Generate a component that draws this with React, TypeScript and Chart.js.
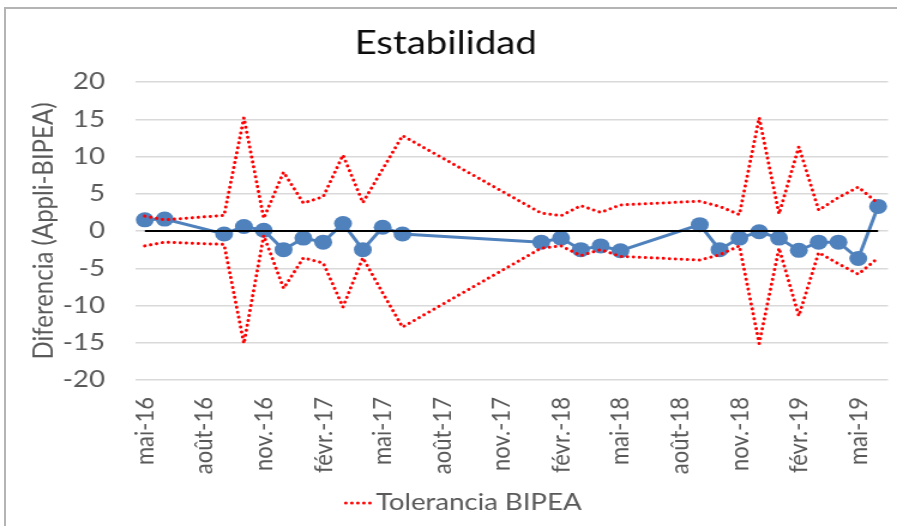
import React, { useEffect, useRef } from "react";
import { Chart, registerables } from "chart.js";

Chart.register(...registerables);

// Month index counted from mai-16 (0) ... juin-19 (37)
const months = [0, 1, 4, 5, 6, 7, 8, 9, 10, 11, 12, 13, 20, 21, 22, 23, 24, 28, 29, 30, 31, 32, 33, 34, 35, 36, 37];
const diferencia = [1.5, 1.6, -0.4, 0.6, 0.1, -2.5, -0.95, -1.5, 1.0, -2.5, 0.5, -0.4, -1.5, -0.95, -2.5, -2.0, -2.65, 0.85, -2.5, -0.95, -0.1, -0.95, -2.6, -1.5, -1.5, -3.7, 3.3];
const tolUpper = [2.0, 1.5, 2.1, 15.2, 1.7, 7.9, 3.75, 4.6, 10.2, 3.8, 8.3, 12.8, 2.4, 2.05, 3.4, 2.5, 3.5, 4.0, 3.3, 2.2, 15.2, 2.3, 11.3, 2.8, 4.5, 5.9, 3.7];
const tolLower = [-2.0, -1.5, -1.8, -15.1, -0.6, -7.7, -3.6, -4.3, -10.2, -3.6, -8.3, -12.9, -2.3, -2.0, -3.3, -2.5, -3.4, -3.9, -3.2, -2.0, -15.1, -2.3, -11.4, -2.9, -4.4, -5.8, -3.6];
const zeroMonths = [0, 37];
const zeroValues = [0, 0];
const tickMonths = [0, 3, 6, 9, 12, 15, 18, 21, 24, 27, 30, 33, 36];
const tickLabels = ["mai-16", "août-16", "nov.-16", "févr.-17", "mai-17", "août-17", "nov.-17", "févr.-18", "mai-18", "août-18", "nov.-18", "févr.-19", "mai-19"];
const legendLabel = "Tolerancia BIPEA";

const FONT = "Lato, 'Open Sans', sans-serif";
const STRETCH = 1.2;
const SCREEN_W = 897;
const W = Math.round(SCREEN_W / STRETCH);
const H = 526;

const toXY = (xs: number[], ys: number[]) => xs.map((x, i) => ({ x, y: ys[i] }));

export default function App() {
  const ref = useRef<HTMLCanvasElement>(null);

  useEffect(() => {
    if (!ref.current) return;
    const dotted = [0.01, 5];
    const legendPlugin = {
      id: "customLegend",
      afterDraw(chart: any) {
        const ctx = chart.ctx as CanvasRenderingContext2D;
        ctx.save();
        ctx.font = `23px ${FONT}`;
        const textW = ctx.measureText(legendLabel).width;
        const lineW = 21;
        const gap = 4;
        const total = lineW + gap + textW;
        const cx = chart.width * 0.517;
        const x0 = cx - total / 2;
        const y = 503;
        ctx.strokeStyle = "#ff0000";
        ctx.lineWidth = 3;
        ctx.lineCap = "round";
        ctx.setLineDash(dotted);
        ctx.beginPath();
        ctx.moveTo(x0, y);
        ctx.lineTo(x0 + lineW, y);
        ctx.stroke();
        ctx.setLineDash([]);
        ctx.fillStyle = "#595959";
        ctx.textAlign = "left";
        ctx.textBaseline = "middle";
        ctx.fillText(legendLabel, x0 + lineW + gap, y);
        ctx.restore();
      },
    };

    const chart = new Chart(ref.current, {
      type: "line",
      data: {
        datasets: [
          {
            label: legendLabel,
            data: toXY(months, tolUpper),
            borderColor: "#ff0000",
            borderWidth: 3,
            borderDash: dotted,
            borderCapStyle: "round",
            pointRadius: 0,
            tension: 0,
          },
          {
            label: legendLabel + " (inf)",
            data: toXY(months, tolLower),
            borderColor: "#ff0000",
            borderWidth: 3,
            borderDash: dotted,
            borderCapStyle: "round",
            pointRadius: 0,
            tension: 0,
          },
          {
            label: "Cero",
            data: toXY(zeroMonths, zeroValues),
            borderColor: "#000000",
            borderWidth: 2,
            pointRadius: 0,
          },
          {
            label: "Diferencia",
            data: toXY(months, diferencia),
            borderColor: "#4f81bd",
            backgroundColor: "#4f81bd",
            borderWidth: 3,
            pointRadius: 7.5,
            pointBorderWidth: 0,
            pointBackgroundColor: "#4f81bd",
            tension: 0,
          },
        ],
      },
      options: {
        responsive: false,
        animation: false,
        events: [],
        layout: { padding: { left: 0, right: W - 892 / STRETCH, top: 0, bottom: 0 } },
        plugins: {
          legend: { display: false },
          tooltip: { enabled: false },
          title: {
            display: true,
            text: "Estabilidad",
            color: "#0d0d0d",
            font: { family: FONT, size: 32, weight: "normal", lineHeight: 1.2 },
            padding: { top: 24.8, bottom: 18.8 },
          },
        },
        scales: {
          x: {
            type: "linear",
            min: -0.5,
            max: 37.5,
            grid: { display: false, drawTicks: false },
            border: { display: false },
            afterBuildTicks: (scale: any) => {
              scale.ticks = tickMonths.map((v) => ({ value: v }));
            },
            afterFit: (scale: any) => {
              scale.height = 146;
              scale.paddingLeft = 0;
              scale.paddingRight = 0;
            },
            ticks: {
              autoSkip: false,
              maxRotation: 90,
              minRotation: 90,
              padding: 17,
              color: "#595959",
              font: { family: FONT, size: 22 },
              callback: (value: any) => {
                const i = tickMonths.indexOf(Number(value));
                return i >= 0 ? tickLabels[i] : "";
              },
            },
          },
          y: {
            min: -20,
            max: 20,
            grid: { color: "#d9d9d9", lineWidth: 1.5, drawTicks: false },
            border: { display: false },
            afterFit: (scale: any) => {
              scale.width = 135 / STRETCH;
            },
            ticks: {
              stepSize: 5,
              padding: 25,
              color: "#595959",
              font: { family: FONT, size: 23 },
            },
            title: {
              display: true,
              text: "Diferencia (Appli-BIPEA)",
              color: "#595959",
              font: { family: FONT, size: 24, lineHeight: 1.2 },
              padding: { top: 22.3, bottom: 0 },
            },
          },
        },
      },
      plugins: [legendPlugin],
    } as any);

    return () => chart.destroy();
  }, []);

  return (
    <div style={{ position: "fixed", left: 0, top: 0, width: SCREEN_W, height: H, background: "#fff", overflow: "hidden" }}>
      <div
        style={{
          position: "absolute",
          left: 0,
          top: 0,
          width: W,
          height: H,
          transform: `scaleX(${SCREEN_W / W})`,
          transformOrigin: "0 0",
        }}
      >
        <canvas ref={ref} width={W} height={H} style={{ display: "block" }} />
      </div>
      <div
        style={{
          position: "absolute",
          left: 4,
          top: 7,
          right: -4,
          bottom: -4,
          borderLeft: "2px solid #b4b4b4",
          borderTop: "2px solid #b4b4b4",
          pointerEvents: "none",
        }}
      />
    </div>
  );
}
